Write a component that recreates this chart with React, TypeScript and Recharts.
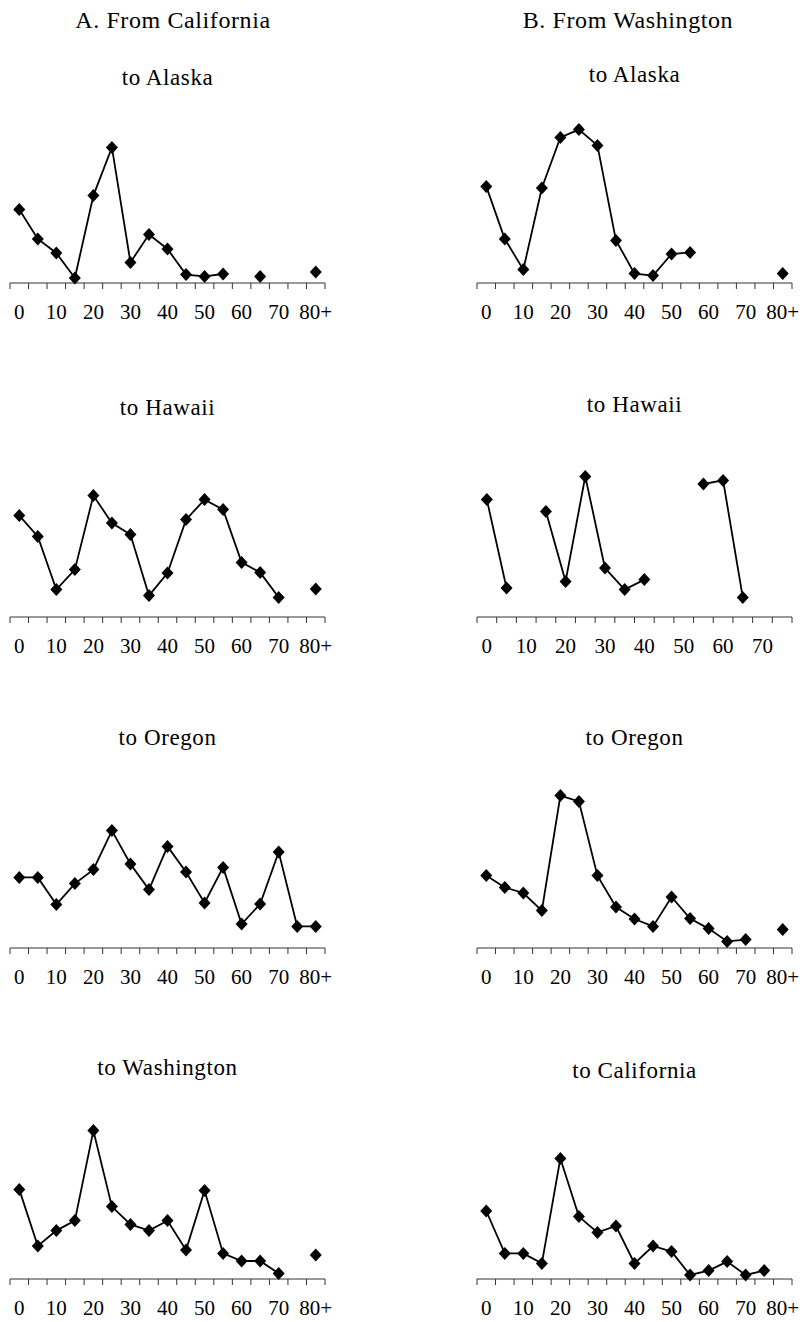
import { LineChart, Line, XAxis, YAxis } from "recharts";

// age groups on the x axis (5-year bands)
const ageGroups = ["0", "5", "10", "15", "20", "25", "30", "35", "40", "45", "50", "55", "60", "65", "70", "75", "80+"];
// Washington -> Hawaii has no 80+ band
const ageGroupsTo75 = ["0", "5", "10", "15", "20", "25", "30", "35", "40", "45", "50", "55", "60", "65", "70", "75"];

// A. From California
const caToAlaska = [36.7, 22, 15, 2.5, 43.7, 67.8, 10.3, 24.2, 17, 4.2, 3.3, 4.5, null, 3.3, null, null, 5.5];
const caToHawaii = [50.7, 40.3, 13.7, 23.7, 60.7, 47, 41.2, 10.7, 22, 48.7, 58.7, 53.7, 27.3, 22.3, 9.8, null, 14];
const caToOregon = [35.3, 35.3, 21.7, 32.2, 39.2, 58.7, 42, 29.2, 50.8, 38, 22.5, 40.3, 12, 22, 48, 10.8, 10.8];
const caToWashington = [44.8, 16.5, 24.2, 29.2, 74.2, 36.2, 27.3, 24.2, 29.2, 14.5, 44.2, 12.8, 9, 9, 2.8, null, 12];

// B. From Washington
const waToAlaska = [48.3, 22, 6.7, 47.5, 72.8, 76.7, 68.8, 21.3, 4.7, 3.7, 14.5, 15.3, null, null, null, null, 4.7];
const waToHawaii = [58.7, 14.5, null, 52.8, 17.8, 70.3, 24.5, 13.7, 18.7, null, null, 66.5, 68.3, 9.8, null, null];
const waToOregon = [36.2, 30.3, 27.5, 18.7, 76.2, 73.3, 36.2, 20.5, 14.5, 10.8, 25.5, 14.7, 9.7, 3.3, 4.2, null, 9.2];
const waToCalifornia = [34, 12.8, 12.8, 7.8, 60.3, 31.2, 23.3, 26.5, 7.8, 16.5, 13.7, 2, 4.2, 8.7, 2, 4.2, null];

const FONT = '"Liberation Serif", "Times New Roman", serif';
const AXIS_COLOR = "#333";
const PLOT_W = 315;
const PLOT_H = 200;
const AXIS_H = 45;
const M = { top: 10, right: 11, left: 10, bottom: 0 };

const LEFT_X = 10;
const RIGHT_X = 477;
const ROW_Y = [283, 617, 948, 1279];

function AgeTick(props: any) {
  const { x, y, payload, band, count } = props;
  const i = payload?.index ?? props.index;
  return (
    <g>
      <line x1={x - band / 2} x2={x - band / 2} y1={y} y2={y + 6} stroke={AXIS_COLOR} strokeWidth={1} />
      {i === count - 1 && (
        <line x1={x + band / 2} x2={x + band / 2} y1={y} y2={y + 6} stroke={AXIS_COLOR} strokeWidth={1} />
      )}
      {i % 2 === 0 && (
        <text x={x} y={y + 36} textAnchor="middle" fontFamily={FONT} fontSize={21} fill="#000">
          {payload.value}
        </text>
      )}
    </g>
  );
}

const Diamond = (p: any) => {
  const { cx, cy, index } = p;
  if (cx == null || cy == null) return <g key={`d-${index}`} />;
  return (
    <path
      key={`d-${index}`}
      d={`M${cx},${cy - 6.5}L${cx + 6},${cy}L${cx},${cy + 6.5}L${cx - 6},${cy}Z`}
      fill="#000"
    />
  );
};

function Panel({ left, axisY, ages, values }: { left: number; axisY: number; ages: string[]; values: (number | null)[] }) {
  const data = ages.map((age, i) => ({ age, value: values[i] }));
  const band = PLOT_W / ages.length;
  return (
    <div style={{ position: "absolute", left: left - M.left, top: axisY - PLOT_H - M.top }}>
      <LineChart width={M.left + PLOT_W + M.right} height={M.top + PLOT_H + AXIS_H} data={data} margin={M}>
        <XAxis
          dataKey="age"
          interval={0}
          padding={{ left: band / 2, right: band / 2 }}
          height={AXIS_H}
          tickSize={0}
          tickMargin={0}
          tickLine={false}
          axisLine={{ stroke: AXIS_COLOR, strokeWidth: 1 }}
          tick={(p: any) => <AgeTick {...p} band={band} count={ages.length} />}
        />
        <YAxis hide domain={[0, 100]} />
        <Line
          type="linear"
          dataKey="value"
          stroke="#000"
          strokeWidth={1.8}
          dot={Diamond}
          activeDot={false}
          isAnimationActive={false}
        />
      </LineChart>
    </div>
  );
}

const titles = [
  { x: 173, y: 28, size: 24, text: "A. From California" },
  { x: 628, y: 28, size: 24, text: "B. From Washington" },
  { x: 167.5, y: 85, size: 23, text: "to Alaska" },
  { x: 634.5, y: 82, size: 23, text: "to Alaska" },
  { x: 167.5, y: 415, size: 23, text: "to Hawaii" },
  { x: 634.5, y: 412, size: 23, text: "to Hawaii" },
  { x: 167.5, y: 745, size: 23, text: "to Oregon" },
  { x: 634.5, y: 745, size: 23, text: "to Oregon" },
  { x: 167.5, y: 1075, size: 23, text: "to Washington" },
  { x: 634.5, y: 1078, size: 23, text: "to California" },
];

export default function App() {
  return (
    <div style={{ position: "absolute", left: 0, top: 0, width: 803, height: 1322, background: "#fff", overflow: "hidden" }}>
      <svg width={803} height={1322} style={{ position: "absolute", left: 0, top: 0 }}>
        {titles.map((t, i) => (
          <text
            key={i}
            x={t.x}
            y={t.y}
            textAnchor="middle"
            fontFamily={FONT}
            fontSize={t.size}
            letterSpacing={0.6}
            fill="#000"
          >
            {t.text}
          </text>
        ))}
      </svg>
      <Panel left={LEFT_X} axisY={ROW_Y[0]} ages={ageGroups} values={caToAlaska} />
      <Panel left={RIGHT_X} axisY={ROW_Y[0]} ages={ageGroups} values={waToAlaska} />
      <Panel left={LEFT_X} axisY={ROW_Y[1]} ages={ageGroups} values={caToHawaii} />
      <Panel left={RIGHT_X} axisY={ROW_Y[1]} ages={ageGroupsTo75} values={waToHawaii} />
      <Panel left={LEFT_X} axisY={ROW_Y[2]} ages={ageGroups} values={caToOregon} />
      <Panel left={RIGHT_X} axisY={ROW_Y[2]} ages={ageGroups} values={waToOregon} />
      <Panel left={LEFT_X} axisY={ROW_Y[3]} ages={ageGroups} values={caToWashington} />
      <Panel left={RIGHT_X} axisY={ROW_Y[3]} ages={ageGroups} values={waToCalifornia} />
    </div>
  );
}
